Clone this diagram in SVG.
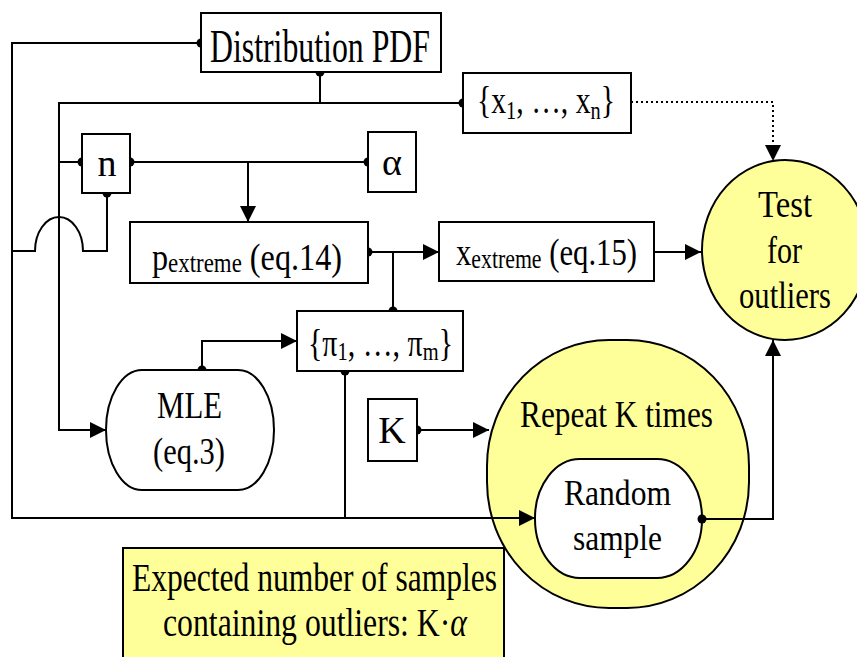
<svg xmlns="http://www.w3.org/2000/svg" width="857" height="657" viewBox="0 0 857 657">
<style>
.box{fill:#fff;stroke:#000;stroke-width:2}
.yel{fill:#FFFF99;stroke:#000;stroke-width:2}
.ln{fill:none;stroke:#000;stroke-width:2}
.dot{fill:none;stroke:#000;stroke-width:2;stroke-dasharray:2,3}
text{font-family:"Liberation Serif","Times New Roman",serif;fill:#000}
</style>
<defs>
<marker id="arr" viewBox="0 0 16 16" refX="16" refY="8" markerWidth="16" markerHeight="16" markerUnits="userSpaceOnUse" orient="auto"><path d="M0,0 L16,8 L0,16 Z" fill="#000"/></marker>
<marker id="ds" viewBox="-6 -6 12 12" refX="0" refY="0" markerWidth="12" markerHeight="12" markerUnits="userSpaceOnUse" orient="auto"><path d="M0,-4.5 A4.5,4.5 0 0 1 0,4.5 Z" fill="#000"/></marker>
<marker id="de" viewBox="-6 -6 12 12" refX="0" refY="0" markerWidth="12" markerHeight="12" markerUnits="userSpaceOnUse" orient="auto"><path d="M0,-4.5 A4.5,4.5 0 0 0 0,4.5 Z" fill="#000"/></marker>
</defs>

<g id="node-test">
<ellipse class="yel" cx="785" cy="250" rx="83" ry="90"/>
<text x="758" y="217" font-size="38" textLength="54" lengthAdjust="spacingAndGlyphs">Test</text>
<text x="767" y="263" font-size="38" textLength="35" lengthAdjust="spacingAndGlyphs">for</text>
<text x="739" y="308" font-size="38" textLength="92" lengthAdjust="spacingAndGlyphs">outliers</text>
</g>

<g id="node-repeat">
<rect class="yel" x="487" y="340" width="262" height="268" rx="122" ry="126"/>
<text x="520" y="427" font-size="37" textLength="193" lengthAdjust="spacingAndGlyphs">Repeat K times</text>
</g>

<g id="node-expected">
<rect class="yel" x="123" y="548" width="381" height="130"/>
<text x="132" y="591" font-size="39" textLength="365" lengthAdjust="spacingAndGlyphs">Expected number of samples</text>
<text x="163" y="636" font-size="39" textLength="304" lengthAdjust="spacingAndGlyphs">containing outliers: K·<tspan font-style="italic">α</tspan></text>
</g>

<g id="connectors">
<path class="ln" d="M201,43 H12 V518 H535" marker-start="url(#ds)" marker-end="url(#arr)"/>
<path class="ln" d="M320,72 V104" marker-start="url(#ds)"/>
<path class="ln" d="M463,103 H59 V430 H106" marker-start="url(#ds)" marker-end="url(#arr)"/>
<path class="ln" d="M82,162 H59" marker-start="url(#ds)"/>
<path class="ln" d="M130,162 H368" marker-start="url(#ds)" marker-end="url(#de)"/>
<path class="ln" d="M248,162 V222" marker-end="url(#arr)"/>
<path class="ln" d="M107,193 V251 H83 A24,34 0 0 0 35,251 H12" marker-start="url(#ds)"/>
<path class="ln" d="M368,252 H439" marker-start="url(#ds)" marker-end="url(#arr)"/>
<path class="ln" d="M393,252 V311" marker-end="url(#de)"/>
<path class="ln" d="M654,252 H701" marker-end="url(#arr)"/>
<path class="dot" d="M631,102 H773 V161" marker-end="url(#arr)"/>
<path class="ln" d="M202,370 V341 H297" marker-start="url(#ds)" marker-end="url(#arr)"/>
<path class="ln" d="M345,371 V518" marker-start="url(#ds)"/>
<path class="ln" d="M417,430 H489" marker-start="url(#ds)" marker-end="url(#arr)"/>
<path class="ln" d="M702,519 H773 V340" marker-end="url(#arr)"/>
</g>

<g id="node-dist">
<rect class="box" x="201" y="13" width="240" height="59"/>
<text x="210" y="62" font-size="46" textLength="220" lengthAdjust="spacingAndGlyphs">Distribution PDF</text>
</g>

<g id="node-xs">
<rect class="box" x="463" y="73" width="168" height="60"/>
<text x="477" y="113" font-size="38" textLength="138" lengthAdjust="spacingAndGlyphs">{x<tspan font-size="26" dy="6">1</tspan><tspan dy="-6">, …, x</tspan><tspan font-size="26" dy="6">n</tspan><tspan dy="-6">}</tspan></text>
</g>

<g id="node-n">
<rect class="box" x="82" y="134" width="48" height="59"/>
<text x="107" y="176" font-size="38" text-anchor="middle">n</text>
</g>

<g id="node-alpha">
<rect class="box" x="368" y="132" width="48" height="60"/>
<text x="392" y="175" font-size="38" text-anchor="middle">α</text>
</g>

<g id="node-pext">
<rect class="box" x="130" y="222" width="238" height="61"/>
<text x="152" y="270" font-size="38" textLength="190" lengthAdjust="spacingAndGlyphs">p<tspan font-size="27" dy="2">extreme</tspan><tspan dy="-2"> (eq.14)</tspan></text>
</g>

<g id="node-xext">
<rect class="box" x="439" y="222" width="215" height="59"/>
<text x="456" y="265" font-size="38" textLength="181" lengthAdjust="spacingAndGlyphs">x<tspan font-size="27" dy="3">extreme</tspan><tspan dy="-3"> (eq.15)</tspan></text>
</g>

<g id="node-pis">
<rect class="box" x="297" y="311" width="166" height="60"/>
<text x="308" y="356" font-size="38" textLength="145" lengthAdjust="spacingAndGlyphs">{π<tspan font-size="26" dy="4">1</tspan><tspan dy="-4">, …, π</tspan><tspan font-size="26" dy="4">m</tspan><tspan dy="-4">}</tspan></text>
</g>

<g id="node-mle">
<rect class="box" x="106" y="370" width="168" height="120" rx="36" ry="60"/>
<text x="157" y="418" font-size="38" textLength="65" lengthAdjust="spacingAndGlyphs">MLE</text>
<text x="153" y="464" font-size="38" textLength="72" lengthAdjust="spacingAndGlyphs">(eq.3)</text>
</g>

<g id="node-k">
<rect class="box" x="368" y="399" width="49" height="62"/>
<text x="392" y="443" font-size="38" text-anchor="middle">K</text>
</g>

<g id="node-random">
<rect class="box" x="535" y="459" width="167" height="119" rx="45" ry="59"/>
<text x="564" y="505" font-size="35" textLength="107" lengthAdjust="spacingAndGlyphs">Random</text>
<text x="573" y="550" font-size="35" textLength="89" lengthAdjust="spacingAndGlyphs">sample</text>
<circle cx="702" cy="519" r="4.5" fill="#000"/>
</g>
</svg>
